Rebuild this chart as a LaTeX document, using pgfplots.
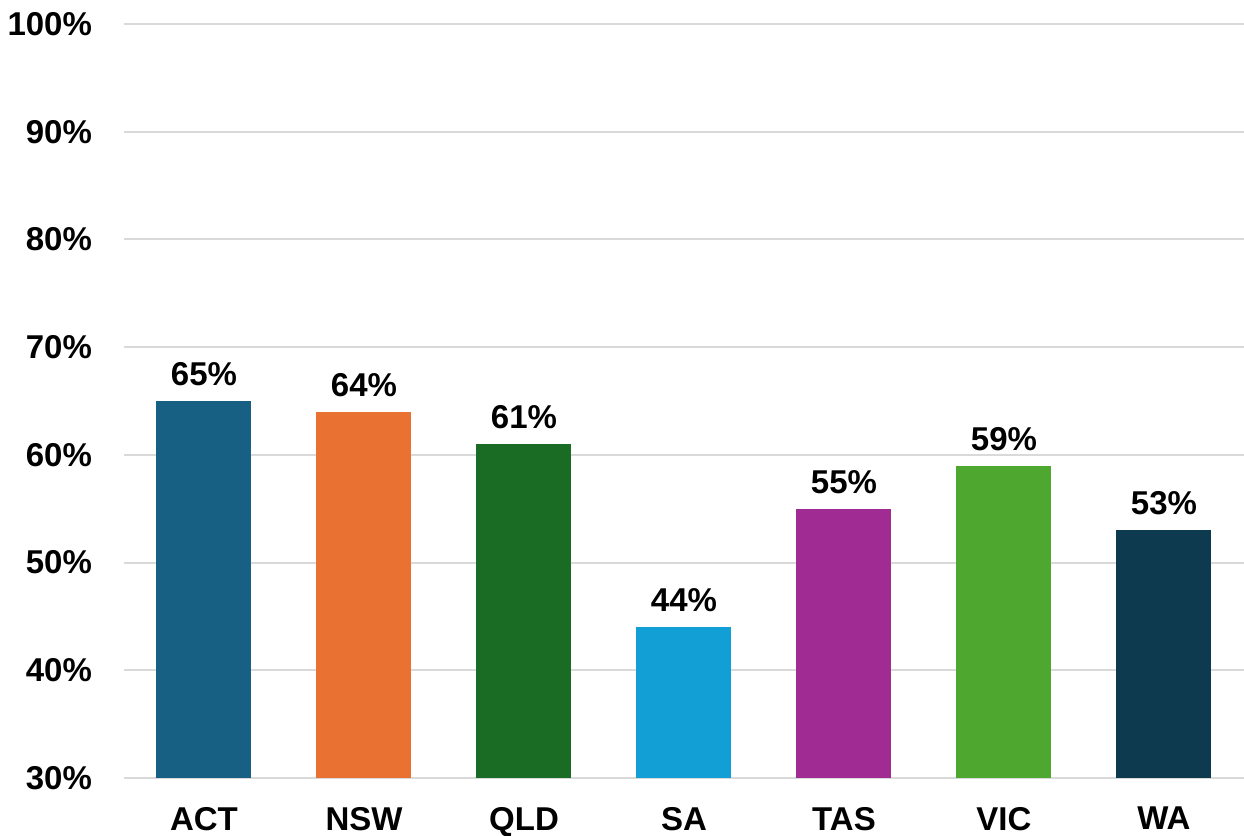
\documentclass[border=0pt]{standalone}
\usepackage{pgfplots}
\pgfplotsset{compat=1.18}
\usepackage{fontspec}
\setmainfont{Liberation Sans}
\definecolor{cACT}{HTML}{185F84}
\definecolor{cNSW}{HTML}{E97132}
\definecolor{cQLD}{HTML}{1A6B24}
\definecolor{cSA}{HTML}{119FD6}
\definecolor{cTAS}{HTML}{A02B93}
\definecolor{cVIC}{HTML}{4EA72E}
\definecolor{cWA}{HTML}{0E3A50}
\definecolor{gridgray}{HTML}{D9D9D9}
\begin{document}
\begin{tikzpicture}
\useasboundingbox (-62pt,-29pt) rectangle (560pt,389pt);
\begin{axis}[
  scale only axis,
  width=560pt, height=377pt,
  xmin=-0.5, xmax=6.5,
  ymin=30, ymax=100,
  ytick={30,40,...,100},
  xtick={0,...,6},
  xticklabels={ACT,NSW,QLD,SA,TAS,VIC,WA},
  axis line style={draw=none},
  major tick length=0pt,
  ymajorgrids,
  grid style={gridgray, line width=1pt},
  /pgf/number format/assume math mode=true,
  ticklabel style={font=\fontsize{16.5}{19}\selectfont\bfseries},
  yticklabel={\pgfmathprintnumber{\tick}\%},
  yticklabel style={xshift=-12.5pt},
  xticklabel style={yshift=-11pt},
  ybar, bar width=47.5pt, bar shift=0pt,
  nodes near coords={\pgfmathprintnumber{\pgfplotspointmeta}\%},
  nodes near coords style={font=\fontsize{16.5}{19}\selectfont\bfseries, black, yshift=4pt},
  every axis plot/.append style={draw=none},
]
\addplot[fill=cACT] coordinates {(0,65)};
\addplot[fill=cNSW] coordinates {(1,64)};
\addplot[fill=cQLD] coordinates {(2,61)};
\addplot[fill=cSA] coordinates {(3,44)};
\addplot[fill=cTAS] coordinates {(4,55)};
\addplot[fill=cVIC] coordinates {(5,59)};
\addplot[fill=cWA] coordinates {(6,53)};
\end{axis}
\end{tikzpicture}
\end{document}
